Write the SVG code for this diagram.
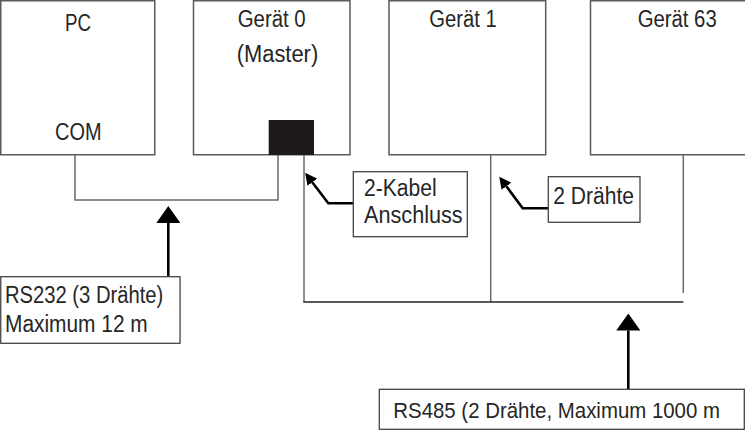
<svg xmlns="http://www.w3.org/2000/svg" width="745" height="435" viewBox="0 0 745 435">
  <style>
    .box { fill: #ffffff; stroke: #5a5a5a; stroke-width: 1.5; }
    .lbl { fill: #ffffff; stroke: #444444; stroke-width: 1.3; }
    .wire { fill: none; stroke: #6a6a6a; stroke-width: 1.5; }
    .bus { fill: none; stroke: #222222; stroke-width: 1.6; }
    .arr { fill: none; stroke: #000000; stroke-width: 2.6; }
    text { font-family: "Liberation Sans", Arial, sans-serif; font-size: 23.5px; fill: #262626; }
    text.long { font-size: 21.5px; }
  </style>
  <defs>
    <marker id="headBig" viewBox="0 0 17 24" refX="0" refY="12" markerWidth="17" markerHeight="24" markerUnits="userSpaceOnUse" orient="auto">
      <path d="M0,0 L17,12 L0,24 Z" fill="#000"/>
    </marker>
    <marker id="headSmall" viewBox="0 0 12 12" refX="0" refY="6" markerWidth="12" markerHeight="12" markerUnits="userSpaceOnUse" orient="auto">
      <path d="M0,0 L12,6 L0,12 Z" fill="#000"/>
    </marker>
  </defs>

  <g id="connectors">
    <path class="wire" d="M75,155 V200 H278 V155"/>
    <path class="wire" d="M304,155 V302"/>
    <path class="wire" d="M490.7,155 V302"/>
    <path class="wire" d="M683.3,146 V293"/>
    <path class="bus" d="M303.3,302 H683.3"/>
    <path class="arr" d="M168.3,277 V223" marker-end="url(#headBig)"/>
    <path class="arr" d="M628.3,389 V330.5" marker-end="url(#headBig)"/>
    <path class="arr" d="M353,203.3 H328.3 L312.3,182.2" marker-end="url(#headSmall)"/>
    <path class="arr" d="M548,208.3 H522.7 L506.4,186.3" marker-end="url(#headSmall)"/>
  </g>

  <g id="pc">
    <rect class="box" x="0.75" y="0.75" width="154" height="154"/>
    <text x="65" y="31" textLength="26" lengthAdjust="spacingAndGlyphs">PC</text>
    <text x="55" y="140" textLength="46.5" lengthAdjust="spacingAndGlyphs">COM</text>
  </g>

  <g id="geraet0">
    <rect class="box" x="193.5" y="0.75" width="156.5" height="154"/>
    <text x="237.7" y="26.5" textLength="68" lengthAdjust="spacingAndGlyphs">Gerät 0</text>
    <text x="236.7" y="61.5" textLength="81.5" lengthAdjust="spacingAndGlyphs">(Master)</text>
    <rect x="268.7" y="120" width="45.3" height="35" fill="#1e1a1a"/>
  </g>

  <g id="geraet1">
    <rect class="box" x="389" y="0.75" width="156.7" height="154"/>
    <text x="429.3" y="26.5" textLength="67.4" lengthAdjust="spacingAndGlyphs">Gerät 1</text>
  </g>

  <g id="geraet63">
    <rect class="box" x="590.5" y="0.75" width="200" height="154"/>
    <text x="637.7" y="26.5" textLength="79" lengthAdjust="spacingAndGlyphs">Gerät 63</text>
  </g>

  <g id="label-kabel">
    <rect class="lbl" x="353.3" y="171.7" width="114" height="65"/>
    <text x="364" y="196" textLength="72.7" lengthAdjust="spacingAndGlyphs">2-Kabel</text>
    <text x="364" y="223.3" textLength="98.7" lengthAdjust="spacingAndGlyphs">Anschluss</text>
  </g>

  <g id="label-draehte">
    <rect class="lbl" x="548.3" y="176.7" width="91.7" height="45.6"/>
    <text x="553.3" y="204" textLength="80.7" lengthAdjust="spacingAndGlyphs">2 Drähte</text>
  </g>

  <g id="label-rs232">
    <rect class="lbl" x="0.75" y="276.7" width="179.3" height="66.6"/>
    <text x="5" y="302.7" textLength="158.3" lengthAdjust="spacingAndGlyphs">RS232 (3 Drähte)</text>
    <text x="5" y="331.7" textLength="142.7" lengthAdjust="spacingAndGlyphs">Maximum 12 m</text>
  </g>

  <g id="label-rs485">
    <rect class="lbl" x="379.3" y="389.3" width="365" height="40"/>
    <text class="long" x="393.3" y="418" textLength="326.7" lengthAdjust="spacingAndGlyphs">RS485 (2 Drähte, Maximum 1000 m</text>
  </g>
</svg>
